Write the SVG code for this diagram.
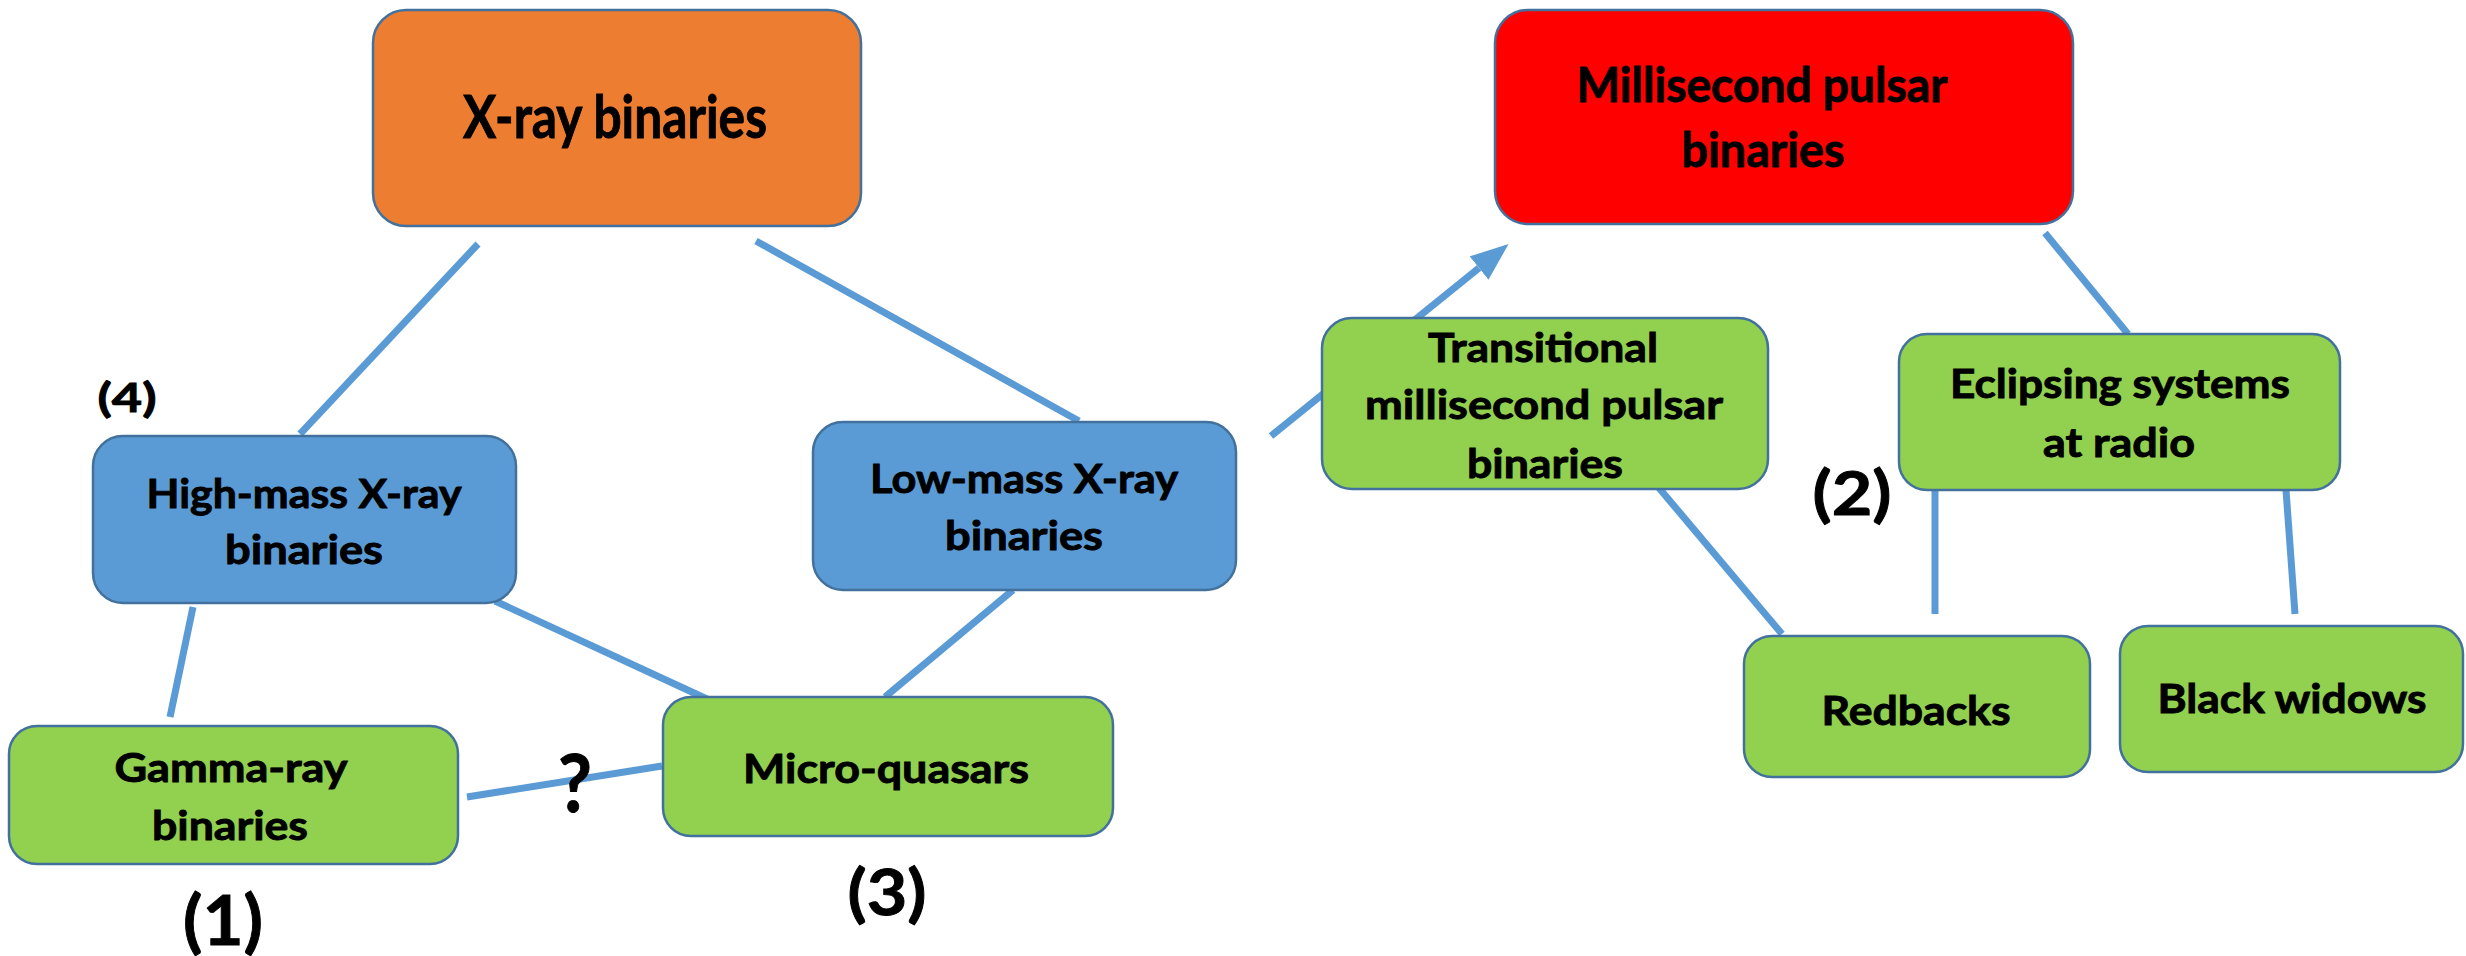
<svg xmlns="http://www.w3.org/2000/svg" width="2466" height="956" viewBox="0 0 2466 956">
<style>
.box{stroke:#41719C;stroke-width:2.5}
.green{fill:#92D050}.blue{fill:#5B9BD5}.orange{fill:#ED7D31}.red{fill:#FF0000}
.t{font-family:Lato,"Liberation Sans",sans-serif;font-weight:bold;fill:#000;stroke:#000;stroke-width:0.9;text-anchor:middle}
.n{font-size:41px}
.conn line{stroke:#5B9BD5;stroke-width:7;fill:none}
</style>
<defs>
<marker id="ah" viewBox="0 0 38 30" refX="0" refY="15" markerWidth="38" markerHeight="30" markerUnits="userSpaceOnUse" orient="auto">
<path d="M0,0 L38,15 L0,30 z" fill="#5B9BD5"/>
</marker>
</defs>
<rect width="2466" height="956" fill="#fff"/>
<g id="connectors" class="conn">
<line x1="478" y1="244" x2="300" y2="434"/>
<line x1="756" y1="241" x2="1079" y2="421"/>
<line x1="193" y1="607" x2="170" y2="717"/>
<line x1="495" y1="601" x2="707" y2="699"/>
<line x1="1013" y1="590" x2="885" y2="697"/>
<line x1="467" y1="797" x2="662" y2="766"/>
<line x1="1271" y1="436" x2="1479" y2="268" marker-end="url(#ah)"/>
<line x1="1659" y1="488" x2="1782" y2="634"/>
<line x1="2045" y1="233" x2="2128" y2="334"/>
<line x1="1935" y1="490" x2="1935" y2="614"/>
<line x1="2286" y1="490" x2="2295" y2="614"/>
</g>
<g id="xray">
<rect class="box orange" x="373" y="10" width="488" height="216" rx="33"/>
<text class="t" x="615" y="138" font-size="59" textLength="304" lengthAdjust="spacingAndGlyphs">X-ray binaries</text>
</g>
<g id="msp">
<rect class="box red" x="1495" y="10" width="578" height="214" rx="33"/>
<text class="t" x="1762" y="102" font-size="47" textLength="371" lengthAdjust="spacingAndGlyphs">Millisecond pulsar</text>
<text class="t" x="1763" y="167" font-size="47" textLength="163" lengthAdjust="spacingAndGlyphs">binaries</text>
</g>
<g id="hmxb">
<rect class="box blue" x="93" y="436" width="423" height="167" rx="30"/>
<text class="t n" x="304" y="508" textLength="315" lengthAdjust="spacingAndGlyphs">High-mass X-ray</text>
<text class="t n" x="304" y="564" textLength="158" lengthAdjust="spacingAndGlyphs">binaries</text>
</g>
<g id="lmxb">
<rect class="box blue" x="813" y="422" width="423" height="168" rx="30"/>
<text class="t n" x="1024" y="493" textLength="308" lengthAdjust="spacingAndGlyphs">Low-mass X-ray</text>
<text class="t n" x="1024" y="550" textLength="158" lengthAdjust="spacingAndGlyphs">binaries</text>
</g>
<g id="gamma">
<rect class="box green" x="9" y="726" width="449" height="138" rx="28"/>
<text class="t n" x="231" y="782" textLength="233" lengthAdjust="spacingAndGlyphs">Gamma-ray</text>
<text class="t n" x="230" y="840" textLength="156" lengthAdjust="spacingAndGlyphs">binaries</text>
</g>
<g id="micro">
<rect class="box green" x="663" y="697" width="450" height="139" rx="28"/>
<text class="t n" x="886" y="783" textLength="286" lengthAdjust="spacingAndGlyphs">Micro-quasars</text>
</g>
<g id="transitional">
<rect class="box green" x="1322" y="318" width="446" height="171" rx="30"/>
<text class="t n" x="1543" y="362" textLength="230" lengthAdjust="spacingAndGlyphs">Transitional</text>
<text class="t n" x="1544" y="419" textLength="358" lengthAdjust="spacingAndGlyphs">millisecond pulsar</text>
<text class="t n" x="1545" y="478" textLength="156" lengthAdjust="spacingAndGlyphs">binaries</text>
</g>
<g id="eclipsing">
<rect class="box green" x="1899" y="334" width="441" height="156" rx="28"/>
<text class="t n" x="2120" y="398" textLength="340" lengthAdjust="spacingAndGlyphs">Eclipsing systems</text>
<text class="t n" x="2119" y="457" textLength="152" lengthAdjust="spacingAndGlyphs">at radio</text>
</g>
<g id="redbacks">
<rect class="box green" x="1744" y="636" width="346" height="141" rx="28"/>
<text class="t n" x="1916" y="725" textLength="189" lengthAdjust="spacingAndGlyphs">Redbacks</text>
</g>
<g id="blackwidows">
<rect class="box green" x="2120" y="626" width="343" height="146" rx="28"/>
<text class="t n" x="2292" y="713" textLength="269" lengthAdjust="spacingAndGlyphs">Black widows</text>
</g>
<g id="labels">
<text class="t" x="127" y="412" font-size="40" textLength="59" lengthAdjust="spacingAndGlyphs">(4)</text>
<text class="t" x="223" y="945" font-size="68" textLength="80" lengthAdjust="spacingAndGlyphs">(1)</text>
<text class="t" x="887" y="915" font-size="64" textLength="79" lengthAdjust="spacingAndGlyphs">(3)</text>
<text class="t" x="1852" y="515" font-size="62" textLength="79" lengthAdjust="spacingAndGlyphs">(2)</text>
<text class="t" x="575" y="812" font-size="80" textLength="34" lengthAdjust="spacingAndGlyphs">?</text>
</g>
</svg>
